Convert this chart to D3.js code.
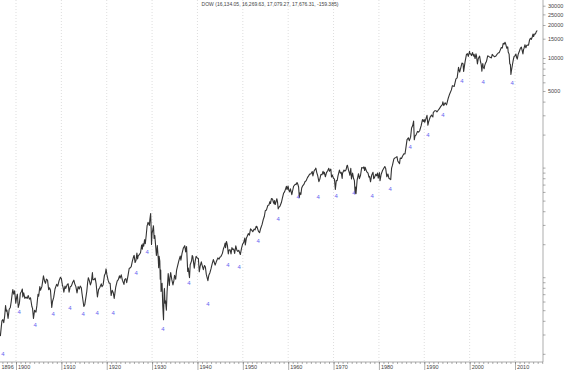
<!DOCTYPE html>
<html>
<meta charset="utf-8">
<style>
    body { margin: 0; background: #fff; }
    .grid { stroke: #c8c8c8; stroke-width: 0.6px; stroke-dasharray: 1,2; }
    .price { fill: none; stroke: #333; stroke-width: 1.1px; stroke-linejoin: round; }
    .axis text { font-family: "Liberation Sans", Arial, sans-serif; font-size: 5.5px; fill: #444; }
    .axis path, .axis line { stroke: #777; stroke-width: 0.6px; }
    .cycle { font-family: "Liberation Sans", Arial, sans-serif; font-size: 6px; fill: #6464f0; text-anchor: middle; }
    .title { font-family: "Liberation Sans", Arial, sans-serif; font-size: 5px; fill: #444; text-anchor: middle; }
</style>
<body>
<script src="https://d3js.org/d3.v7.min.js"></script>
<script>

    var width = 565,
        height = 372,
        plotRight = 543,
        plotBottom = 362;

    var titleText = "DOW (16,134.05, 16,269.63, 17,079.27, 17,676.31, -159.385)";

    // [decimal year, index value]
    var dow = [
        [1896.55,29],[1896.75,35],[1896.9,40],[1897.1,41],[1897.3,38.5],[1897.5,44],[1897.7,55],[1897.85,49],
        [1898.0,50],[1898.25,42],[1898.5,51],[1898.75,53],[1898.95,60],[1899.15,70],[1899.3,77],[1899.5,70],
        [1899.7,75],[1899.95,58],[1900.15,66],[1900.3,70],[1900.5,53],[1900.75,58],[1900.95,71],[1901.2,74],
        [1901.4,78],[1901.5,66],[1901.7,72],[1901.95,64],[1902.2,66],[1902.45,64],[1902.7,68],[1902.95,63],
        [1903.2,65],[1903.5,54],[1903.65,52],[1903.85,42],[1904.1,50],[1904.4,48],[1904.6,55],[1904.85,70],
        [1905.0,67],[1905.25,82],[1905.4,76],[1905.7,82],[1905.95,96],[1906.05,103],[1906.3,92],[1906.5,88],
        [1906.7,96],[1906.95,94],[1907.2,77],[1907.4,80],[1907.6,76],[1907.88,53],[1908.05,60],[1908.3,65],
        [1908.6,78],[1908.95,86],[1909.2,83],[1909.5,93],[1909.8,100],[1910.0,97],[1910.2,86],[1910.4,80],
        [1910.55,73],[1910.8,83],[1910.95,79],[1911.3,86],[1911.5,87],[1911.7,73],[1911.95,82],[1912.2,83],
        [1912.5,90],[1912.75,94],[1912.95,87],[1913.2,82],[1913.45,72],[1913.7,82],[1913.95,78],[1914.15,83],
        [1914.4,80],[1914.55,71],[1914.95,54],[1915.15,56],[1915.4,65],[1915.6,74],[1915.8,90],[1915.95,99],
        [1916.2,92],[1916.4,85],[1916.6,90],[1916.85,110],[1916.95,95],[1917.2,95],[1917.45,98],[1917.65,88],
        [1917.95,66],[1918.2,77],[1918.45,80],[1918.8,87],[1918.95,82],[1919.2,85],[1919.5,104],[1919.7,108],
        [1919.85,119],[1920.05,105],[1920.3,94],[1920.55,88],[1920.75,88],[1920.97,68],[1921.2,76],[1921.45,72],
        [1921.65,64],[1921.85,74],[1921.98,81],[1922.3,92],[1922.55,95],[1922.8,103],[1922.95,98],[1923.2,105],
        [1923.45,94],[1923.8,86],[1923.95,95],[1924.2,97],[1924.4,89],[1924.7,104],[1924.95,120],[1925.2,122],
        [1925.4,125],[1925.65,140],[1925.95,156],[1926.05,158],[1926.25,136],[1926.45,142],[1926.65,166],[1926.8,147],
        [1926.95,157],[1927.2,161],[1927.45,167],[1927.7,197],[1927.85,180],[1927.98,202],[1928.15,192],[1928.35,220],
        [1928.5,202],[1928.7,240],[1928.9,295],[1928.97,300],[1929.1,317],[1929.4,297],[1929.5,333],[1929.68,381],
        [1929.8,273],[1929.87,199],[1929.98,248],[1930.15,270],[1930.3,294],[1930.45,226],[1930.6,240],[1930.75,201],
        [1930.95,158],[1931.15,194],[1931.35,150],[1931.45,122],[1931.55,155],[1931.7,140],[1931.8,96],[1931.9,116],
        [1931.98,74],[1932.1,85],[1932.2,88],[1932.35,55],[1932.52,41],[1932.65,73],[1932.72,79],[1932.85,58],
        [1932.95,61],[1933.15,50],[1933.3,73],[1933.55,108],[1933.7,94],[1933.8,84],[1933.95,99],[1934.1,110],
        [1934.35,95],[1934.6,85],[1934.8,93],[1934.95,104],[1935.2,96],[1935.4,116],[1935.65,128],[1935.95,144],
        [1936.2,156],[1936.35,143],[1936.6,165],[1936.9,185],[1937.2,194],[1937.4,170],[1937.6,190],[1937.75,140],
        [1937.85,113],[1937.98,121],[1938.25,99],[1938.4,130],[1938.7,141],[1938.85,158],[1938.98,154],[1939.3,121],
        [1939.5,140],[1939.7,155],[1939.95,150],[1940.2,148],[1940.4,112],[1940.6,126],[1940.85,138],[1940.98,131],
        [1941.3,117],[1941.55,128],[1941.75,124],[1941.95,106],[1942.3,93],[1942.5,104],[1942.75,110],[1942.98,119],
        [1943.2,130],[1943.5,145],[1943.7,137],[1943.9,129],[1944.2,140],[1944.5,150],[1944.75,146],[1944.95,152],
        [1945.2,155],[1945.5,165],[1945.75,183],[1945.95,192],[1946.1,205],[1946.2,186],[1946.4,212],[1946.6,195],
        [1946.8,163],[1946.95,177],[1947.2,178],[1947.4,163],[1947.6,186],[1947.8,179],[1947.98,181],[1948.2,165],
        [1948.45,193],[1948.7,176],[1948.9,172],[1949.1,176],[1949.45,161],[1949.7,182],[1949.95,200],[1950.2,208],
        [1950.45,228],[1950.55,197],[1950.8,228],[1950.95,235],[1951.2,250],[1951.45,242],[1951.7,276],[1951.95,269],
        [1952.2,260],[1952.5,275],[1952.7,270],[1952.95,292],[1953.1,290],[1953.45,262],[1953.7,255],[1953.95,280],
        [1954.25,303],[1954.5,335],[1954.75,360],[1954.95,404],[1955.2,410],[1955.5,450],[1955.75,455],[1955.95,488],
        [1956.1,470],[1956.3,521],[1956.55,517],[1956.75,480],[1956.9,467],[1956.98,500],[1957.15,460],[1957.5,520],
        [1957.65,485],[1957.8,420],[1957.98,436],[1958.2,446],[1958.5,480],[1958.75,531],[1958.98,583],[1959.2,601],
        [1959.45,643],[1959.6,674],[1959.75,631],[1959.98,679],[1960.15,620],[1960.3,601],[1960.5,640],[1960.8,566],
        [1960.98,615],[1961.2,676],[1961.45,696],[1961.6,705],[1961.75,700],[1961.95,731],[1962.15,700],[1962.3,665],
        [1962.45,535],[1962.6,588],[1962.8,570],[1962.98,652],[1963.2,682],[1963.5,706],[1963.7,743],[1963.98,762],
        [1964.25,810],[1964.5,840],[1964.75,873],[1964.98,874],[1965.3,920],[1965.45,840],[1965.7,930],[1965.98,969],
        [1966.1,989],[1966.3,900],[1966.5,847],[1966.77,744],[1966.98,785],[1967.2,865],[1967.45,860],[1967.7,926],
        [1967.85,875],[1967.98,905],[1968.2,825],[1968.45,900],[1968.7,935],[1968.95,985],[1969.1,925],[1969.4,968],
        [1969.55,820],[1969.75,855],[1969.98,800],[1970.2,785],[1970.4,631],[1970.6,760],[1970.8,760],[1970.98,839],
        [1971.3,950],[1971.5,890],[1971.7,905],[1971.9,797],[1971.98,890],[1972.3,950],[1972.5,930],[1972.75,955],
        [1972.95,1036],[1973.05,1051],[1973.3,950],[1973.5,890],[1973.6,851],[1973.8,987],[1973.95,788],[1974.2,890],
        [1974.4,800],[1974.6,760],[1974.75,584],[1974.85,665],[1974.95,577],[1975.2,770],[1975.5,880],[1975.7,793],
        [1975.95,852],[1976.2,1000],[1976.5,990],[1976.7,1014],[1976.85,940],[1976.98,1004],[1977.3,920],[1977.6,890],
        [1977.8,818],[1977.95,831],[1978.15,742],[1978.4,850],[1978.7,907],[1978.85,792],[1978.98,805],[1979.3,870],
        [1979.5,842],[1979.7,893],[1979.85,800],[1979.98,838],[1980.1,903],[1980.25,759],[1980.5,870],[1980.8,940],
        [1980.95,964],[1981.3,1024],[1981.5,980],[1981.75,824],[1981.98,875],[1982.2,800],[1982.6,777],[1982.8,990],
        [1982.98,1046],[1983.3,1200],[1983.5,1222],[1983.75,1240],[1983.98,1258],[1984.15,1150],[1984.55,1086],[1984.7,1224],
        [1984.98,1212],[1985.2,1270],[1985.5,1335],[1985.75,1330],[1985.98,1547],[1986.2,1800],[1986.5,1870],[1986.7,1760],
        [1986.98,1896],[1987.2,2300],[1987.45,2420],[1987.65,2662],[1987.8,1794],[1987.95,1939],[1988.2,1988],[1988.5,2140],
        [1988.75,2110],[1988.98,2169],[1989.3,2400],[1989.6,2740],[1989.8,2640],[1989.98,2753],[1990.1,2590],[1990.5,2905],
        [1990.6,2999],[1990.8,2442],[1990.98,2634],[1991.3,2890],[1991.6,3015],[1991.9,2895],[1991.98,3169],[1992.3,3300],
        [1992.6,3300],[1992.8,3220],[1992.98,3301],[1993.3,3430],[1993.6,3600],[1993.98,3754],[1994.1,3978],[1994.3,3680],
        [1994.6,3900],[1994.9,3740],[1994.98,3834],[1995.3,4320],[1995.6,4700],[1995.98,5117],[1996.2,5590],[1996.5,5530],
        [1996.6,5500],[1996.98,6448],[1997.25,6580],[1997.55,8220],[1997.8,7442],[1997.98,7908],[1998.3,9000],[1998.55,8883],
        [1998.68,7539],[1998.98,9181],[1999.3,10789],[1999.5,10970],[1999.7,10337],[1999.98,11497],[2000.05,10940],[2000.2,10920],
        [2000.4,10522],[2000.65,11215],[2000.85,10414],[2000.98,10787],[2001.2,9878],[2001.4,10911],[2001.5,10502],[2001.72,8847],
        [2001.9,9851],[2001.98,10021],[2002.2,10404],[2002.4,9243],[2002.55,8737],[2002.7,7592],[2002.8,8397],[2002.9,8896],
        [2002.98,8342],[2003.2,7992],[2003.3,8480],[2003.5,8985],[2003.7,9275],[2003.98,10453],[2004.2,10357],[2004.5,10140],
        [2004.8,10027],[2004.98,10783],[2005.2,10503],[2005.5,10275],[2005.8,10440],[2005.98,10717],[2006.3,11109],[2006.4,11168],
        [2006.5,11150],[2006.7,11679],[2006.98,12463],[2007.2,12354],[2007.4,13627],[2007.6,13358],[2007.8,13930],[2007.98,13264],
        [2008.2,12262],[2008.4,12638],[2008.5,11350],[2008.7,10850],[2008.85,8829],[2008.98,8776],[2009.1,7063],[2009.2,7609],
        [2009.4,8500],[2009.6,9496],[2009.8,10345],[2009.98,10428],[2010.2,10857],[2010.35,10137],[2010.5,9774],[2010.7,10788],
        [2010.98,11577],[2011.2,12320],[2011.4,12570],[2011.6,11613],[2011.75,10913],[2011.9,12046],[2011.98,12217],[2012.2,13212],
        [2012.4,12394],[2012.6,13090],[2012.8,13096],[2012.98,13104],[2013.2,14579],[2013.4,15116],[2013.6,14810],[2013.8,15545],
        [2013.98,16576],[2014.1,15699],[2014.3,16580],[2014.5,16563],[2014.7,17390],[2014.9,17828]
    ];

    // "4" cycle markers: [decimal year, level]
    var cycleLows = [
        [1897.1,20],[1900.7,48],[1904.2,37],[1908.2,46],[1911.9,52],[1914.8,46],[1917.9,47],[1921.4,47],
        [1926.5,109],[1928.9,170],[1932.4,34],[1938.1,88],[1942.3,57],[1946.7,129],[1949.2,124],[1953.4,214],
        [1957.8,340],[1962.2,539],[1966.6,539],[1970.6,551],[1974.5,586],[1978.5,551],[1982.5,638],[1986.9,1542],
        [1990.8,1984],[1994.1,3020],[1998.3,6170],[2003.0,6040],[2009.4,5910]
    ];

    var yearLabels = [1896, 1900, 1910, 1920, 1930, 1940, 1950, 1960, 1970, 1980, 1990, 2000, 2010];
    var decadeGrid = [1900, 1910, 1920, 1930, 1940, 1950, 1960, 1970, 1980, 1990, 2000, 2010];
    var priceLabels = [5000, 10000, 15000, 20000, 25000, 30000];

    var x = d3.scaleLinear()
        .domain([1900, 2010])
        .range([16, 515]);

    var y = d3.scaleLog()
        .domain([16.84, 33820])
        .range([plotBottom, 0]);

    var priceTicks = [];
    [10, 100, 1000].forEach(function (m) {
        for (var k = 1; k <= 9; k++) if (k * m >= 20) priceTicks.push(k * m);
    });
    priceTicks = priceTicks.concat([10000, 15000, 20000, 25000, 30000]);

    var svg = d3.select("body").append("svg")
        .attr("width", width)
        .attr("height", height);

    svg.selectAll(".grid")
        .data(decadeGrid)
        .enter().append("line")
        .attr("class", "grid")
        .attr("x1", function (d) { return x(d); })
        .attr("x2", function (d) { return x(d); })
        .attr("y1", 0)
        .attr("y2", plotBottom);

    // bottom axis: yearly minor ticks, decade major ticks
    var yearTicks = d3.range(1897, 2017);
    svg.append("g")
        .attr("class", "axis")
        .attr("transform", "translate(0," + plotBottom + ")")
        .call(d3.axisBottom(x).tickValues(yearTicks).tickSize(2).tickFormat(""))
        .call(function (g) { g.select(".domain").attr("d", "M0,0H" + plotRight); });

    var bx = svg.append("g")
        .attr("class", "axis")
        .attr("transform", "translate(0," + plotBottom + ")")
        .call(d3.axisBottom(x).tickValues(yearLabels).tickSize(8).tickFormat(d3.format("d")));
    bx.select(".domain").remove();
    bx.selectAll("text")
        .attr("text-anchor", "start")
        .attr("x", 1.5)
        .attr("y", 3.5);
    bx.selectAll(".tick")
        .filter(function (d) { return d === 1896; })
        .attr("transform", "translate(0,0)")
        .select("line").remove();

    // right axis
    var ry = svg.append("g")
        .attr("class", "axis")
        .attr("transform", "translate(" + plotRight + ",0)")
        .call(d3.axisRight(y).tickValues(priceTicks).tickSize(2.5)
            .tickFormat(function (d) { return priceLabels.indexOf(d) >= 0 ? d : ""; }));
    ry.select(".domain").attr("d", "M0,0V" + plotBottom);
    ry.selectAll("text").attr("x", 5);

    svg.append("path")
        .datum(dow)
        .attr("class", "price")
        .attr("d", d3.line()
            .x(function (d) { return x(d[0]); })
            .y(function (d) { return y(d[1]); }));

    svg.selectAll(".cycle")
        .data(cycleLows)
        .enter().append("text")
        .attr("class", "cycle")
        .attr("x", function (d) { return x(d[0]); })
        .attr("y", function (d) { return y(d[1]) + 2; })
        .text("4");

    svg.append("text")
        .attr("class", "title")
        .attr("x", 270)
        .attr("y", 6)
        .text(titleText);

</script>
</body>
</html>
